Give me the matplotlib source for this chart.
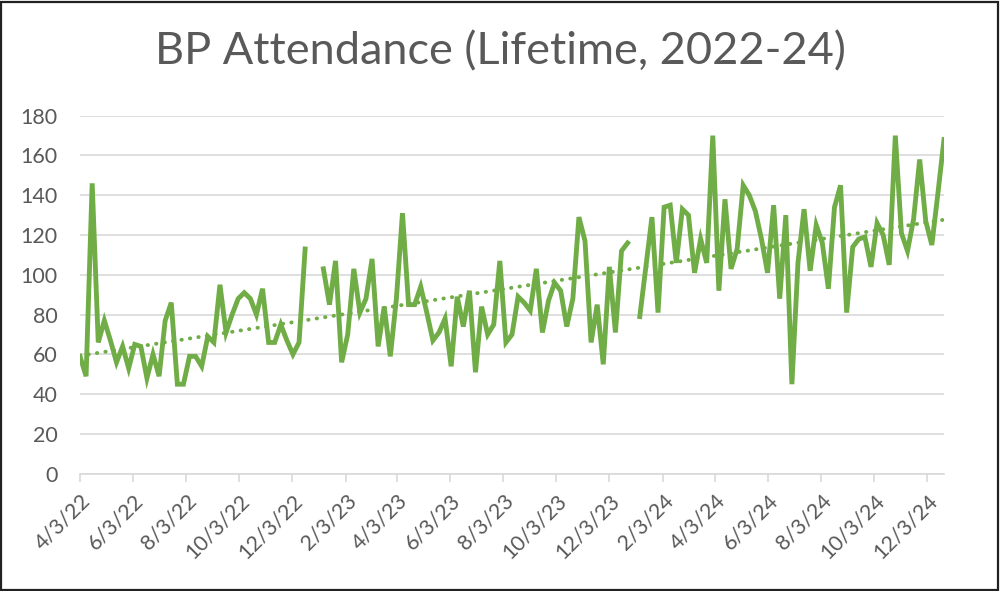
import numpy as np
import pandas as pd
import matplotlib
matplotlib.use("Agg")
from matplotlib import pyplot as plt
import matplotlib.dates as mdates
from matplotlib.patches import Rectangle

start_date = "2022-04-03"
n_weeks = 143
attendance = [
    59, 49, 146, 66, 77, 67, 56, 64, 53, 65,
    64, 48, 60, 49, 77, 86, 45, 45, 59, 59,
    54, 69, 66, 95, 71, 80, 88, 91, 88, 80,
    93, 66, 66, 75, 67, 60, 66, 113, np.nan, np.nan,
    103, 85, 107, 56, 70, 103, 81, 88, 108, 64,
    84, 59, 88, 131, 85, 85, 94, 81, 67, 71,
    78, 54, 89, 74, 92, 51, 84, 70, 75, 107,
    66, 70, 89, 86, 82, 103, 71, 87, 96, 92,
    74, 88, 129, 117, 66, 85, 55, 104, 71, 112,
    116, np.nan, 79, 104, 129, 81, 134, 135, 106, 133,
    130, 101, 118, 106, 170, 92, 138, 103, 113, 145,
    140, 132, 118, 101, 135, 88, 130, 45, 106, 133,
    102, 125, 116, 93, 134, 145, 81, 114, 118, 119,
    104, 126, 120, 105, 170, 121, 112, 128, 158, 127,
    115, 141, 168,
]
title = "BP Attendance (Lifetime, 2022-24)"
y_ticks = [0, 20, 40, 60, 80, 100, 120, 140, 160, 180]

green = "#70ad47"
grey_text = "#595959"
grid_col = "#d9d9d9"

plt.rcParams["font.family"] = ["Lato", "DejaVu Sans"]

dates = pd.date_range(start_date, periods=n_weeks, freq="7D")
vals = np.array(attendance, dtype=float)
xnum = mdates.date2num(dates)

# linear trendline like excel, fitted on the weeks that have data
ok = ~np.isnan(vals)
slope, icpt = np.polyfit(xnum[ok], vals[ok], 1)
trend = slope * xnum + icpt

fig = plt.figure(figsize=(10.0, 5.91), dpi=100)
ax = fig.add_axes([0.080, 0.1985, 0.864, 0.6057])

ax.plot(dates, vals, color=green, lw=3.5, solid_joinstyle="miter", zorder=3)
ax.plot(dates, trend, color=green, lw=2.8, linestyle=(0, (0.1, 2.1)),
        dash_capstyle="round", zorder=2)

ax.set_xlim(dates[0], dates[-1])
ax.set_ylim(0, 180)
ax.set_yticks(y_ticks)
ax.grid(axis="y", color=grid_col, lw=1.2)
ax.set_axisbelow(True)

ax.xaxis.set_major_locator(mdates.MonthLocator(bymonth=range(2, 13, 2), bymonthday=3))
ax.xaxis.set_major_formatter(
    matplotlib.ticker.FuncFormatter(
        lambda x, pos: f"{mdates.num2date(x).month}/{mdates.num2date(x).day}/{mdates.num2date(x).year % 100}"))

for side in ["top", "right", "left"]:
    ax.spines[side].set_visible(False)
ax.spines["bottom"].set_color(grid_col)
ax.spines["bottom"].set_linewidth(1.2)

ax.tick_params(axis="y", length=0, pad=16, labelsize=15.5, labelcolor=grey_text)
ax.tick_params(axis="x", length=6, width=1.2, color=grid_col, pad=6,
               labelsize=15.5, labelcolor=grey_text)
for lab in ax.get_xticklabels():
    lab.set_rotation(45)
    lab.set_ha("right")
    lab.set_rotation_mode("anchor")

fig.text(0.5, 0.913, title, ha="center", va="center", fontsize=32.5, color=grey_text)

fig.patches.append(Rectangle((0.001, 0.002), 0.997, 0.995, transform=fig.transFigure,
                             fill=False, edgecolor="#222222", lw=1.6))

fig.savefig("out.png", dpi=100)
